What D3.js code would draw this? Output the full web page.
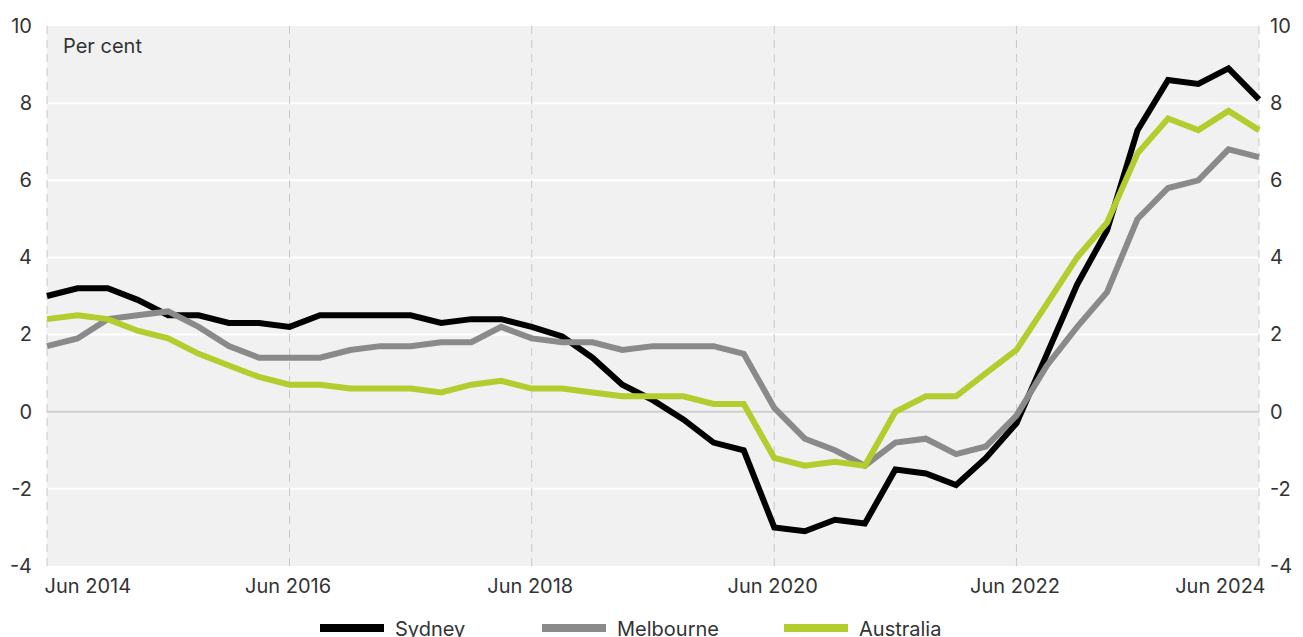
<!DOCTYPE html>
<html>
<head>
<meta charset="utf-8">
<script src="https://cdn.jsdelivr.net/npm/d3@7"></script>
<style>
  html, body { margin: 0; padding: 0; background: #fff; }
  svg { display: block; font-family: Inter, "Noto Sans", sans-serif; }
</style>
</head>
<body>
<div id="chart"></div>
<script>
// quarterly, Jun 2014 .. Jun 2024
const quarters = d3.range(41).map((i) => new Date(2014, 5 + i * 3, 1));

const sydney = [3.0, 3.2, 3.2, 2.9, 2.5, 2.5, 2.3, 2.3, 2.2, 2.5, 2.5, 2.5, 2.5, 2.3, 2.4, 2.4, 2.2, 1.95, 1.4, 0.7, 0.3, -0.2, -0.8, -1.0, -3.0, -3.1, -2.8, -2.9, -1.5, -1.6, -1.9, -1.2, -0.3, 1.5, 3.3, 4.7, 7.3, 8.6, 8.5, 8.9, 8.1];
const melbourne = [1.7, 1.9, 2.4, 2.5, 2.6, 2.2, 1.7, 1.4, 1.4, 1.4, 1.6, 1.7, 1.7, 1.8, 1.8, 2.2, 1.9, 1.8, 1.8, 1.6, 1.7, 1.7, 1.7, 1.5, 0.1, -0.7, -1.0, -1.4, -0.8, -0.7, -1.1, -0.9, -0.1, 1.2, 2.2, 3.1, 5.0, 5.8, 6.0, 6.8, 6.6];
const australia = [2.4, 2.5, 2.4, 2.1, 1.9, 1.5, 1.2, 0.9, 0.7, 0.7, 0.6, 0.6, 0.6, 0.5, 0.7, 0.8, 0.6, 0.6, 0.5, 0.4, 0.4, 0.4, 0.2, 0.2, -1.2, -1.4, -1.3, -1.4, 0.0, 0.4, 0.4, 1.0, 1.6, 2.8, 4.0, 4.9, 6.7, 7.6, 7.3, 7.8, 7.3];

const seriesNames = ["Sydney", "Melbourne", "Australia"];
const seriesColors = ["#000000", "#8a8a8a", "#b2cd2d"];
const yTicks = [-4, -2, 0, 2, 4, 6, 8, 10];
const xTickDates = [2014, 2016, 2018, 2020, 2022, 2024].map((y) => new Date(y, 5, 1));

const width = 1303;
const height = 637;
const margin = { top: 26, right: 44, bottom: 71, left: 47 };
const fontSize = 20;
const textColor = "#333";

const svg = d3
  .select("#chart")
  .append("svg")
  .attr("width", width)
  .attr("height", height);

const x = d3
  .scaleTime()
  .domain(d3.extent(quarters))
  .range([margin.left, width - margin.right]);

const y = d3
  .scaleLinear()
  .domain([-4, 10])
  .range([height - margin.bottom, margin.top]);

// plot background
svg
  .append("rect")
  .attr("x", x.range()[0])
  .attr("y", y(10))
  .attr("width", x.range()[1] - x.range()[0])
  .attr("height", y(-4) - y(10))
  .attr("fill", "#f1f1f1");

// horizontal gridlines
svg
  .append("g")
  .selectAll("line")
  .data(yTicks.filter((d) => d !== 10 && d !== -4))
  .join("line")
  .attr("x1", x.range()[0])
  .attr("x2", x.range()[1])
  .attr("y1", (d) => y(d))
  .attr("y2", (d) => y(d))
  .attr("stroke", (d) => (d === 0 ? "#cfcfcf" : "#ffffff"))
  .attr("stroke-width", 2);

// vertical dashed lines
svg
  .append("g")
  .selectAll("line")
  .data(xTickDates)
  .join("line")
  .attr("x1", (d) => x(d))
  .attr("x2", (d) => x(d))
  .attr("y1", y(10))
  .attr("y2", y(-4))
  .attr("stroke", "#c8c8c8")
  .attr("stroke-width", 1)
  .attr("stroke-dasharray", "8,6");

// y axis labels, both sides (plain hyphen for negatives, like the original)
const yFmt = (d) => String(d);
const yLeft = d3.axisLeft(y).tickValues(yTicks).tickFormat(yFmt).tickSize(0).tickPadding(15);
const yRight = d3.axisRight(y).tickValues(yTicks).tickFormat(yFmt).tickSize(0).tickPadding(11);

svg
  .append("g")
  .attr("transform", `translate(${x.range()[0]},0)`)
  .call(yLeft)
  .call((g) => g.select(".domain").remove());

svg
  .append("g")
  .attr("transform", `translate(${x.range()[1]},0)`)
  .call(yRight)
  .call((g) => g.select(".domain").remove());

// x axis labels
const fmt = d3.timeFormat("%b %Y");
svg
  .append("g")
  .attr("transform", `translate(0,${y(-4)})`)
  .call(d3.axisBottom(x).tickValues(xTickDates).tickFormat(fmt).tickSize(0).tickPadding(13))
  .call((g) => g.select(".domain").remove())
  .call((g) =>
    g
      .selectAll(".tick text")
      .attr("text-anchor", (d, i, n) => (i === 0 ? "start" : i === n.length - 1 ? "end" : "middle"))
      .attr("dx", (d, i, n) => (i === 0 ? -3 : i === n.length - 1 ? 6 : -2))
  );

svg
  .selectAll(".tick text")
  .attr("font-size", fontSize)
  .attr("font-family", "Inter, 'Noto Sans', sans-serif")
  .attr("fill", textColor);

// unit label
svg
  .append("text")
  .attr("x", x.range()[0] + 16)
  .attr("y", y(10) + 27)
  .attr("font-size", fontSize)
  .attr("fill", textColor)
  .text("Per cent");

// lines
const allSeries = [sydney, melbourne, australia];
const line = d3
  .line()
  .x((d, i) => x(quarters[i]))
  .y((d) => y(d));

svg
  .append("g")
  .selectAll("path")
  .data(allSeries)
  .join("path")
  .attr("d", line)
  .attr("fill", "none")
  .attr("stroke", (d, i) => seriesColors[i])
  .attr("stroke-width", 6)
  .attr("stroke-linejoin", "miter")
  .attr("stroke-miterlimit", 2);

// legend (sits at the very bottom edge, as in the original)
const legendX = [320, 542, 784];
const legend = svg
  .append("g")
  .selectAll("g")
  .data(seriesNames)
  .join("g")
  .attr("transform", (d, i) => `translate(${legendX[i]},628)`);

legend
  .append("rect")
  .attr("x", 0)
  .attr("y", -4)
  .attr("width", 64)
  .attr("height", 8)
  .attr("fill", (d, i) => seriesColors[i]);

legend
  .append("text")
  .attr("x", 75)
  .attr("y", 8)
  .attr("font-size", fontSize)
  .attr("fill", textColor)
  .text((d) => d);
</script>
</body>
</html>
